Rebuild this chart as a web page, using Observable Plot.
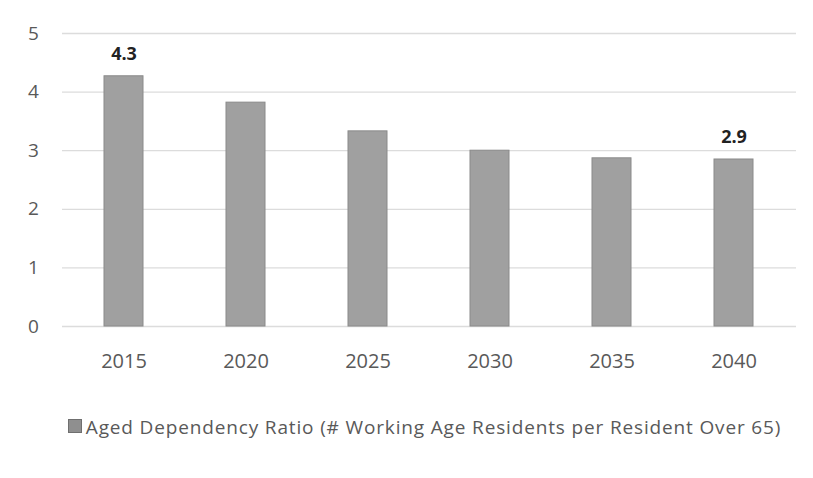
<!DOCTYPE html>
<html>
<head>
<meta charset="utf-8">
<script src="https://cdn.jsdelivr.net/npm/d3@7"></script>
<script src="https://cdn.jsdelivr.net/npm/@observablehq/plot@0.6"></script>
<style>
  html, body { margin: 0; padding: 0; background: #fff; }
  #chart { width: 813px; }
  .legend { font-family: "Open Sans", sans-serif; font-size: 19px; color: #595959; text-align: center; margin-top: 29px; padding-left: 36px; box-sizing: border-box; width: 813px; letter-spacing: 0.85px; white-space: nowrap; }
  .legend .sw { display: inline-block; width: 12px; height: 12px; background: #8f8f8f; border: 1px solid #6f6f6f; margin-right: 4px; vertical-align: 1px; }
</style>
</head>
<body>
<div id="chart"></div>
<script>
const years = ["2015", "2020", "2025", "2030", "2035", "2040"];
const ratios = [4.27, 3.82, 3.33, 3.0, 2.87, 2.85];
const labelled = ["2015", "2040"];
const yTicks = [0, 1, 2, 3, 4, 5];
const seriesName = "Aged Dependency Ratio (# Working Age Residents per Resident Over 65)";

const data = years.map((y, i) => ({year: y, value: ratios[i]}));
const labelData = data.filter(d => labelled.includes(d.year));

const plot = Plot.plot({
  width: 813,
  height: 385,
  marginTop: 33,
  marginBottom: 59,
  marginLeft: 62,
  marginRight: 17,
  style: {fontFamily: "Open Sans, sans-serif", fontSize: "18px", color: "#595959", background: "transparent"},
  x: {domain: years, paddingInner: 0.68, paddingOuter: 0.34, align: 0.5, label: null},
  y: {domain: [0, 5], label: null},
  marks: [
    Plot.gridY(yTicks, {stroke: "#dcdcdc", strokeOpacity: 1, strokeWidth: 1.3}),
    Plot.axisY(yTicks, {tickSize: 0, tickFormat: d3.format("d"), textAnchor: "middle", dx: -20, fill: "#595959", fontSize: 19, label: null}),
    Plot.axisX({tickSize: 0, tickPadding: 27, fill: "#595959", fontSize: 20, label: null}),
    Plot.barY(data, {x: "year", y: "value", fill: "#a0a0a0", stroke: "#8a8a8a", strokeWidth: 1}),
    Plot.text(labelData, {x: "year", y: "value", text: d => d3.format(".1f")(d.value), dy: -22, fontWeight: "bold", fontSize: 18, fill: "#222"})
  ]
});
document.getElementById("chart").appendChild(plot);
const leg = document.createElement("div");
leg.className = "legend";
leg.innerHTML = '<span class="sw"></span>' + seriesName;
document.getElementById("chart").appendChild(leg);
</script>
</body>
</html>
